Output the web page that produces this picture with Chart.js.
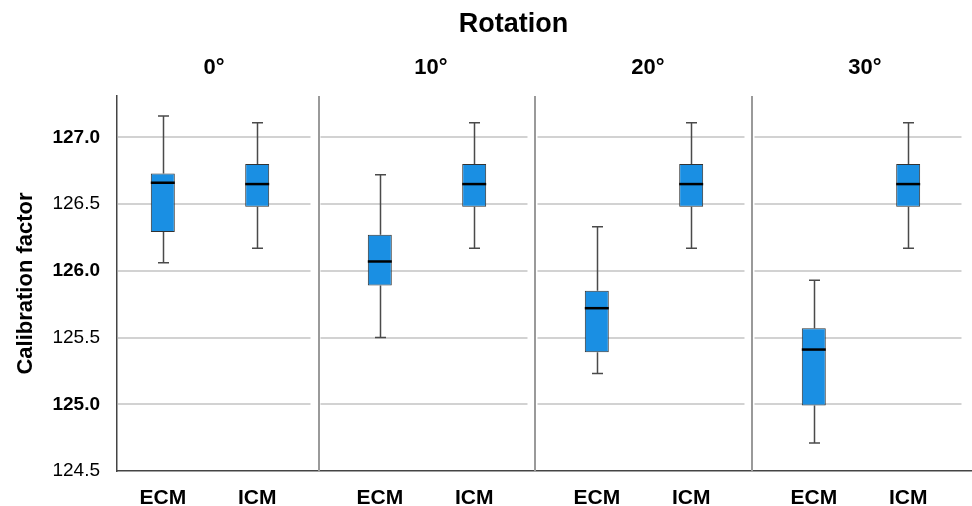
<!DOCTYPE html>
<html>
<head>
<meta charset="utf-8">
<title>Calibration factor by rotation</title>
<script src="https://cdn.jsdelivr.net/npm/chart.js@4/dist/chart.umd.min.js"></script>
<style>
  html, body { margin: 0; padding: 0; background: #fff; }
  #wrap { width: 972px; height: 506px; position: relative; }
</style>
</head>
<body>
<div id="wrap"><canvas id="chart"></canvas></div>
<script>
// Panels (rotation) and groups inside each panel
const panels = ['0°', '10°', '20°', '30°'];
const groups = ['ECM', 'ICM'];

// Box plot statistics, one value per panel
const ecmMin = [126.06, 125.50, 125.23, 124.71];
const ecmQ1 = [126.29, 125.89, 125.39, 124.99];
const ecmMedian = [126.66, 126.07, 125.72, 125.41];
const ecmQ3 = [126.73, 126.27, 125.85, 125.57];
const ecmMax = [127.16, 126.72, 126.33, 125.93];

const icmMin = [126.17, 126.17, 126.17, 126.17];
const icmQ1 = [126.48, 126.48, 126.48, 126.48];
const icmMedian = [126.65, 126.65, 126.65, 126.65];
const icmQ3 = [126.80, 126.80, 126.80, 126.80];
const icmMax = [127.11, 127.11, 127.11, 127.11];

const yTicks = [124.5, 125.0, 125.5, 126.0, 126.5, 127.0];

const FONT = "'Liberation Sans', Arial, sans-serif";

// one floating bar (q1..q3) per panel, placed at the panel index
const makeBoxes = function(q1, q3) {
    return q1.map(function(v, i) {
        return { x: i, y: [v, q3[i]] };
    });
};

const boxStyle = {
    backgroundColor: '#1a8fe3',
    borderColor: '#333333',
    borderWidth: 1,
    borderSkipped: false,
    categoryPercentage: 0.87,
    barPercentage: 0.254
};

const datasets = [
    Object.assign({
        label: groups[0],
        data: makeBoxes(ecmQ1, ecmQ3),
        mins: ecmMin,
        medians: ecmMedian,
        maxs: ecmMax
    }, boxStyle),
    Object.assign({
        label: groups[1],
        data: makeBoxes(icmQ1, icmQ3),
        mins: icmMin,
        medians: icmMedian,
        maxs: icmMax
    }, boxStyle)
];

// Panel grid lines, separators, whiskers, medians and labels
const panelPlugin = {
    id: 'panels',
    beforeDatasetsDraw: function(chart) {
        const ctx = chart.ctx;
        const area = chart.chartArea;
        const x = chart.scales.x;
        const y = chart.scales.y;

        ctx.save();
        // horizontal grid lines, stopping short of each separator
        ctx.strokeStyle = '#d2d2d2';
        ctx.lineWidth = 2;
        yTicks.forEach(function(v) {
            if (v === y.min) {
                return;
            }
            const py = Math.round(y.getPixelForValue(v));
            panels.forEach(function(p, i) {
                const x0 = Math.max(area.left + 1, x.getPixelForValue(i - 0.5) + 2);
                const x1 = x.getPixelForValue(i + 0.5) - 8;
                ctx.beginPath();
                ctx.moveTo(x0, py);
                ctx.lineTo(x1, py);
                ctx.stroke();
            });
        });

        // vertical separators between panels
        ctx.strokeStyle = '#9a9a9a';
        ctx.lineWidth = 2;
        for (let i = 1; i < panels.length; i++) {
            const sx = Math.round(x.getPixelForValue(i - 0.5));
            ctx.beginPath();
            ctx.moveTo(sx, area.top);
            ctx.lineTo(sx, area.bottom);
            ctx.stroke();
        }

        // whiskers
        ctx.strokeStyle = '#4a4a4a';
        ctx.lineWidth = 1.5;
        chart.data.datasets.forEach(function(ds, d) {
            chart.getDatasetMeta(d).data.forEach(function(bar, i) {
                const bx = Math.round(bar.x) + 0.5;
                const yMin = y.getPixelForValue(ds.mins[i]);
                const yMax = y.getPixelForValue(ds.maxs[i]);
                const yQ1 = y.getPixelForValue(ds.data[i].y[0]);
                const yQ3 = y.getPixelForValue(ds.data[i].y[1]);
                ctx.beginPath();
                ctx.moveTo(bx, yQ3);
                ctx.lineTo(bx, yMax);
                ctx.moveTo(bx - 5.5, yMax);
                ctx.lineTo(bx + 5.5, yMax);
                ctx.moveTo(bx, yQ1);
                ctx.lineTo(bx, yMin);
                ctx.moveTo(bx - 5.5, yMin);
                ctx.lineTo(bx + 5.5, yMin);
                ctx.stroke();
            });
        });
        ctx.restore();
    },
    afterDatasetsDraw: function(chart) {
        const ctx = chart.ctx;
        const area = chart.chartArea;
        const x = chart.scales.x;
        const y = chart.scales.y;

        ctx.save();
        // medians
        ctx.strokeStyle = '#000000';
        ctx.lineWidth = 2.5;
        chart.data.datasets.forEach(function(ds, d) {
            chart.getDatasetMeta(d).data.forEach(function(bar, i) {
                const my = y.getPixelForValue(ds.medians[i]);
                ctx.beginPath();
                ctx.moveTo(bar.x - bar.width / 2, my);
                ctx.lineTo(bar.x + bar.width / 2, my);
                ctx.stroke();
            });
        });

        ctx.fillStyle = '#000000';
        ctx.textAlign = 'center';
        ctx.textBaseline = 'middle';

        // group labels under each box
        ctx.font = 'bold 21px ' + FONT;
        chart.data.datasets.forEach(function(ds, d) {
            chart.getDatasetMeta(d).data.forEach(function(bar) {
                ctx.fillText(ds.label, bar.x, area.bottom + 27);
            });
        });

        // panel titles
        ctx.font = 'bold 22px ' + FONT;
        panels.forEach(function(p, i) {
            ctx.fillText(p, x.getPixelForValue(i) + 4, area.top - 28);
        });

        // overall title
        ctx.font = 'bold 27px ' + FONT;
        ctx.fillText('Rotation', x.getPixelForValue(1.5) - 22, 25);
        ctx.restore();
    }
};

new Chart(document.getElementById('chart'), {
    type: 'bar',
    data: {
        datasets: datasets
    },
    options: {
        responsive: true,
        maintainAspectRatio: false,
        animation: false,
        layout: {
            padding: { left: 0, right: 1, top: 96, bottom: 35 }
        },
        plugins: {
            legend: { display: false },
            tooltip: { enabled: false },
            title: { display: false }
        },
        scales: {
            x: {
                type: 'linear',
                offset: false,
                min: -0.4286,
                max: 3.507,
                grid: { display: false, drawTicks: false },
                border: { display: true, color: '#444444', width: 1.5 },
                afterBuildTicks: function(scale) {
                    scale.ticks = panels.map(function(p, i) {
                        return { value: i };
                    });
                },
                ticks: { display: false }
            },
            y: {
                min: 124.5,
                max: 127.31,
                grid: { display: false, drawTicks: false },
                border: { display: true, color: '#444444', width: 1.5 },
                afterBuildTicks: function(scale) {
                    scale.ticks = yTicks.map(function(v) {
                        return { value: v };
                    });
                },
                afterFit: function(scale) {
                    scale.width = 117;
                },
                ticks: {
                    padding: 17,
                    color: '#000000',
                    callback: function(v) {
                        return Number(v).toFixed(1);
                    },
                    font: function(c) {
                        const v = c.tick ? c.tick.value : 0;
                        return {
                            family: FONT,
                            size: 19,
                            weight: Number.isInteger(v) ? 'bold' : 'normal'
                        };
                    }
                },
                title: {
                    display: true,
                    text: 'Calibration factor',
                    color: '#000000',
                    font: { family: FONT, size: 22, weight: 'bold' },
                    padding: { top: 13, bottom: 0 }
                }
            }
        }
    },
    plugins: [panelPlugin]
});
</script>
</body>
</html>
